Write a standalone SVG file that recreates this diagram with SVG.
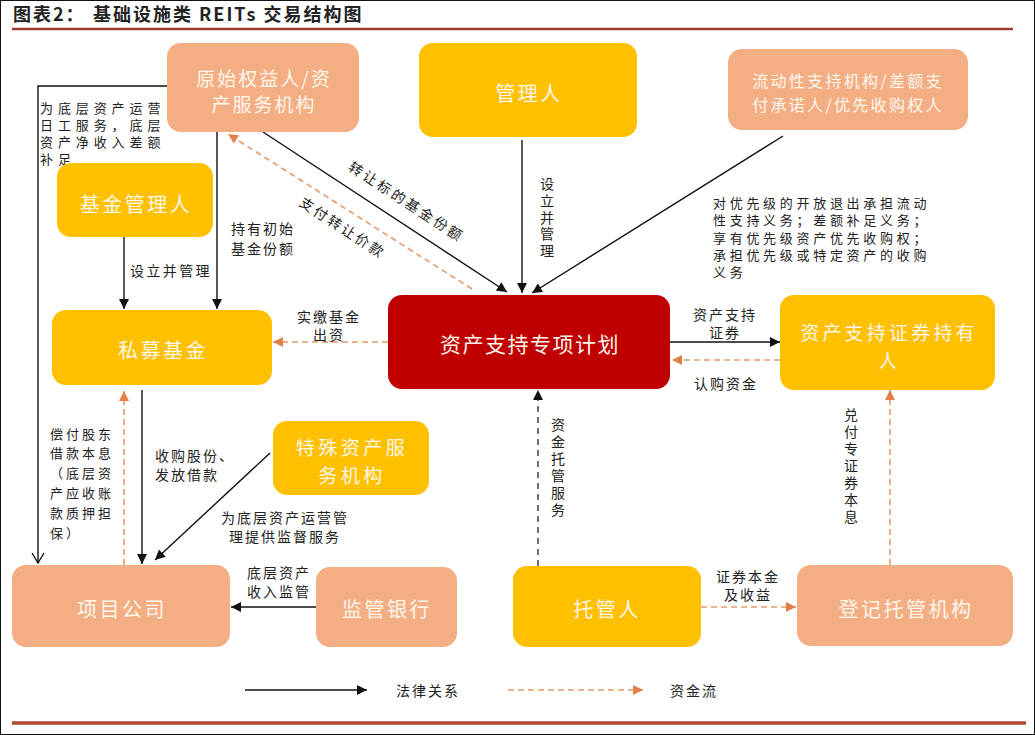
<svg xmlns="http://www.w3.org/2000/svg" width="1035" height="735" viewBox="0 0 1035 735">
<style>
text{font-family:"Noto Sans CJK SC","Noto Sans",sans-serif;dominant-baseline:central}
.nt{fill:#FFF7EC;font-size:20px;text-anchor:middle;letter-spacing:2.5px}
.lb{fill:#222;font-size:14px;letter-spacing:2px}
.lc{fill:#222;font-size:14px;letter-spacing:2px;text-anchor:middle}
.ls{fill:#222;font-size:13px;letter-spacing:3.7px}
.vt{fill:#222;font-size:14px;writing-mode:vertical-rl;text-anchor:start;letter-spacing:3px}
.sal{fill:#F4AE84}
.yel{fill:#FFC000}
.red{fill:#C00000}
.ln{stroke:#111;stroke-width:1.4;fill:none}
.dsh{stroke:#E59A6A;stroke-width:1.6;fill:none;stroke-dasharray:6 4}
.dshb{stroke:#111;stroke-width:1.2;fill:none;stroke-dasharray:6 5}
</style>
<defs>
<marker id="ab" viewBox="0 0 10 10" refX="10" refY="5" markerWidth="11" markerHeight="10" markerUnits="userSpaceOnUse" orient="auto"><path d="M0,0 L10,5 L0,10 z" fill="#111"/></marker>
<marker id="ao" viewBox="0 0 10 10" refX="10" refY="5" markerWidth="11" markerHeight="10" markerUnits="userSpaceOnUse" orient="auto"><path d="M0,0 L10,5 L0,10 z" fill="#E2804A"/></marker>
<marker id="av" viewBox="0 0 12 14" refX="11" refY="7" markerWidth="12" markerHeight="14" markerUnits="userSpaceOnUse" orient="auto"><path d="M1,1 L11,7 L1,13" fill="none" stroke="#111" stroke-width="1.4"/></marker>
</defs>
<rect x="0" y="0" width="1035" height="735" fill="#fff"/>
<rect x="0.5" y="0.5" width="1034" height="734" fill="none" stroke="#111" stroke-width="1"/>
<g id="title">
<text x="13" y="13" style="font-size:18px;font-weight:bold;fill:#222;letter-spacing:2px">图表2：<tspan x="93">基础设施类 REITs 交易结构图</tspan></text>
<line x1="12" y1="29" x2="1013" y2="29" stroke="#9E3B32" stroke-width="2.5"/>
</g>
<g id="connectors">
<polyline class="ln" points="167,86 38,86 38,563" marker-end="url(#av)"/>
<line class="ln" x1="217" y1="132" x2="217" y2="309" marker-end="url(#ab)"/>
<line class="ln" x1="124" y1="237" x2="124" y2="309" marker-end="url(#ab)"/>
<line class="ln" x1="263" y1="132" x2="507" y2="292" marker-end="url(#ab)"/>
<line class="dsh" x1="472" y1="289" x2="228" y2="134" marker-end="url(#ao)"/>
<line class="ln" x1="522" y1="140" x2="522" y2="293" marker-end="url(#ab)"/>
<line class="ln" x1="783" y1="136" x2="532" y2="293" marker-end="url(#ab)"/>
<line class="dsh" x1="388" y1="342" x2="273" y2="342" marker-end="url(#ao)"/>
<line class="ln" x1="670" y1="342" x2="780" y2="342" marker-end="url(#ab)"/>
<line class="dsh" x1="780" y1="360" x2="672" y2="360" marker-end="url(#ao)"/>
<line class="dshb" x1="538" y1="566" x2="538" y2="390" marker-end="url(#ab)"/>
<line class="dsh" x1="890" y1="565" x2="890" y2="390" marker-end="url(#ao)"/>
<line class="ln" x1="142" y1="390" x2="142" y2="564" stroke-width="2" marker-end="url(#ab)"/>
<line class="dsh" x1="124" y1="565" x2="124" y2="391" marker-end="url(#ao)"/>
<line class="ln" x1="270" y1="453" x2="155" y2="560" marker-end="url(#ab)"/>
<line class="ln" x1="316" y1="607" x2="231" y2="607" stroke-width="1.8" marker-end="url(#ab)"/>
<line class="dsh" x1="701" y1="607" x2="796" y2="607" marker-end="url(#ao)"/>
</g>
<g id="labels">
<text class="ls" x="40" y="107" style="letter-spacing:4.9px">为底层资产运营</text>
<text class="ls" x="40" y="124" style="letter-spacing:4.9px">日工服务，底层</text>
<text class="ls" x="40" y="141" style="letter-spacing:4.9px">资产净收入差额</text>
<text class="ls" x="40" y="158" style="letter-spacing:4.9px">补足</text>
<text class="lb" x="231" y="228">持有初始</text>
<text class="lb" x="231" y="248">基金份额</text>
<text class="lb" x="130" y="270" style="letter-spacing:2.4px">设立并管理</text>
<text class="lc" transform="translate(407,201) rotate(33)" style="letter-spacing:2.8px">转让标的基金份额</text>
<text class="lc" transform="translate(343,227) rotate(33)" style="letter-spacing:2.5px">支付转让价款</text>
<text class="vt" x="547" y="177" style="letter-spacing:2.7px">设立并管理</text>
<text class="ls" x="713" y="202">对优先级的开放退出承担流动</text>
<text class="ls" x="713" y="219">性支持义务；差额补足义务；</text>
<text class="ls" x="713" y="237">享有优先级资产优先收购权；</text>
<text class="ls" x="713" y="254">承担优先级或特定资产的收购</text>
<text class="ls" x="713" y="271">义务</text>
<text class="lc" x="329" y="316">实缴基金</text>
<text class="lc" x="329" y="334">出资</text>
<text class="lc" x="725" y="314">资产支持</text>
<text class="lc" x="725" y="332">证券</text>
<text class="lc" x="726" y="383">认购资金</text>
<text class="vt" x="558" y="418">资金托管服务</text>
<text class="vt" x="851" y="408">兑付专证券本息</text>
<text class="lb" x="155" y="455">收购股份、</text>
<text class="lb" x="155" y="474">发放借款</text>
<text class="ls" x="50" y="433" style="letter-spacing:3px">偿付股东</text>
<text class="ls" x="50" y="452" style="letter-spacing:3px">借款本息</text>
<text class="ls" x="50" y="472" style="letter-spacing:3px">（底层资</text>
<text class="ls" x="50" y="492" style="letter-spacing:3px">产应收账</text>
<text class="ls" x="50" y="512" style="letter-spacing:3px">款质押担</text>
<text class="ls" x="50" y="532" style="letter-spacing:3px">保）</text>
<text class="lc" x="285" y="517">为底层资产运营管</text>
<text class="lc" x="285" y="536">理提供监督服务</text>
<text class="lc" x="279" y="572">底层资产</text>
<text class="lc" x="279" y="591">收入监管</text>
<text class="lc" x="748" y="576">证券本金</text>
<text class="lc" x="748" y="594">及收益</text>
</g>
<g id="n-yuanshi"><rect class="sal" x="167" y="43" width="192" height="89" rx="14"/><text class="nt" x="264" y="77" style="font-size:19px;letter-spacing:2px">原始权益人/资</text><text class="nt" x="264" y="103" style="font-size:19px;letter-spacing:2px">产服务机构</text></g>
<g id="n-guanliren"><rect class="yel" x="419" y="43" width="218" height="94" rx="14"/><text class="nt" x="529" y="92">管理人</text></g>
<g id="n-liudong"><rect class="sal" x="728" y="49" width="240" height="81" rx="14"/><text class="nt" x="848" y="80" style="font-size:16px;letter-spacing:2.3px">流动性支持机构/差额支</text><text class="nt" x="848" y="104" style="font-size:16px;letter-spacing:2.3px">付承诺人/优先收购权人</text></g>
<g id="n-jijinguanli"><rect class="yel" x="57" y="163" width="156" height="74" rx="14"/><text class="nt" x="136" y="203">基金管理人</text></g>
<g id="n-simu"><rect class="yel" x="52" y="310" width="220" height="75" rx="14"/><text class="nt" x="163" y="349">私募基金</text></g>
<g id="n-zhuanxiang"><rect class="red" x="388" y="295" width="282" height="94" rx="14"/><text class="nt" x="530" y="343" style="font-size:21px;letter-spacing:1.5px">资产支持专项计划</text></g>
<g id="n-chiyouren"><rect class="yel" x="780" y="295" width="215" height="95" rx="14"/><text class="nt" x="889" y="331" style="font-size:19px;letter-spacing:3.2px">资产支持证券持有</text><text class="nt" x="889" y="359" style="font-size:19px">人</text></g>
<g id="n-teshu"><rect class="yel" x="273" y="421" width="156" height="74" rx="14"/><text class="nt" x="352" y="446" style="font-size:19px;letter-spacing:3.5px">特殊资产服</text><text class="nt" x="352" y="474" style="font-size:19px;letter-spacing:3.5px">务机构</text></g>
<g id="n-xiangmu"><rect class="sal" x="12" y="565" width="218" height="82" rx="14"/><text class="nt" x="122" y="608">项目公司</text></g>
<g id="n-jianguan"><rect class="sal" x="316" y="567" width="141" height="80" rx="14"/><text class="nt" x="387" y="608">监管银行</text></g>
<g id="n-tuoguan"><rect class="yel" x="513" y="566" width="188" height="81" rx="14"/><text class="nt" x="607" y="608">托管人</text></g>
<g id="n-dengji"><rect class="sal" x="797" y="565" width="216" height="81" rx="14"/><text class="nt" x="906" y="608">登记托管机构</text></g>
<g id="legend">
<line class="ln" x1="245" y1="690" x2="367" y2="690" marker-end="url(#ab)"/>
<text class="lb" x="396" y="690">法律关系</text>
<line class="dsh" x1="508" y1="690" x2="643" y2="690" marker-end="url(#ao)"/>
<text class="lb" x="670" y="690">资金流</text>
</g>
<line x1="12" y1="723" x2="1026" y2="723" stroke="#B04A2E" stroke-width="3.5"/>
</svg>
